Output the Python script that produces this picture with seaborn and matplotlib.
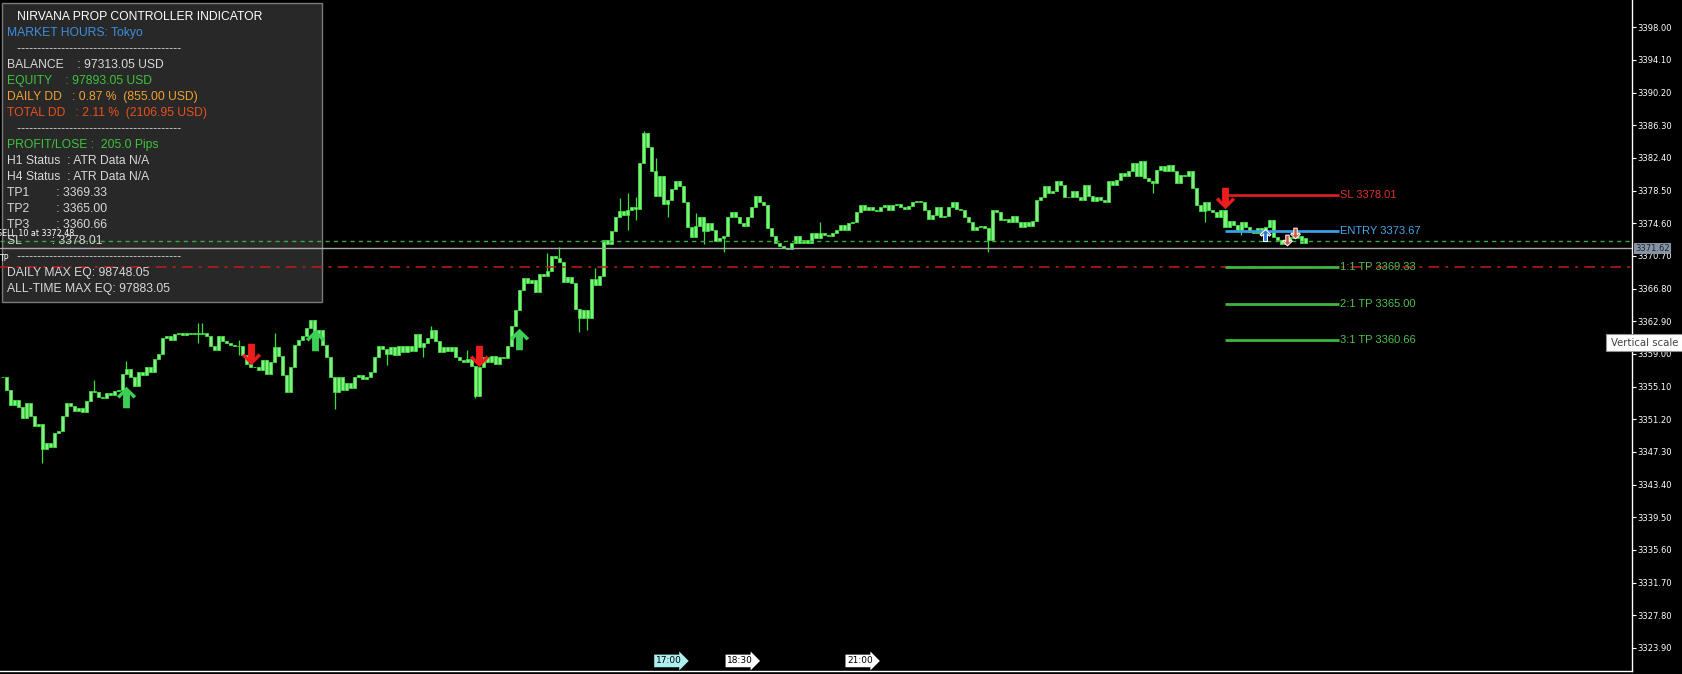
import numpy as np
import pandas as pd
import seaborn as sns
import matplotlib.pyplot as plt
from matplotlib.path import Path
from matplotlib.patches import Rectangle

# M5 closes (one per bar, left to right)
closes = [
    3356.2, 3354.7, 3352.9, 3353.5, 3352.7, 3351.4, 3353.1, 3351.6, 3350.4, 3350.6,
    3347.6, 3348.4, 3347.9, 3349.6, 3349.8, 3351.6, 3353.1, 3352.8, 3352.2, 3352.5,
    3352.1, 3353.4, 3354.6, 3354.5, 3353.9, 3353.8, 3354.3, 3354.1, 3354.6, 3354.7,
    3356.6, 3357.2, 3356.2, 3355.2, 3356.9, 3356.5, 3357.5, 3356.9, 3358.4, 3359.0,
    3360.9, 3361.2, 3360.7, 3361.4, 3361.5, 3361.3, 3361.5, 3361.4, 3361.5, 3361.4,
    3361.5, 3361.2, 3360.0, 3359.5, 3361.1, 3360.5, 3360.3, 3360.1, 3360.0, 3359.9,
    3358.9, 3357.8, 3357.4, 3357.5, 3357.1, 3358.3, 3356.6, 3358.1, 3359.8, 3358.8,
    3356.5, 3354.4, 3357.5, 3360.1, 3360.7, 3361.1, 3362.1, 3363.1, 3361.4, 3361.9,
    3360.1, 3358.6, 3356.3, 3354.5, 3356.2, 3354.7, 3355.5, 3354.9, 3356.2, 3356.5,
    3356.0, 3356.3, 3356.9, 3358.6, 3359.9, 3359.6, 3359.0, 3359.8, 3358.9, 3359.9,
    3359.2, 3360.0, 3359.3, 3361.4, 3359.8, 3360.3, 3360.9, 3361.9, 3360.5, 3359.2,
    3359.8, 3359.4, 3359.8, 3358.6, 3358.3, 3358.1, 3358.4, 3357.6, 3354.0, 3357.5,
    3358.6, 3358.1, 3358.7, 3357.8, 3358.6, 3358.5, 3360.0, 3362.3, 3364.3, 3366.6,
    3368.1, 3367.5, 3367.8, 3366.4, 3368.6, 3368.3, 3368.9, 3370.7, 3370.4, 3370.0,
    3367.6, 3368.2, 3367.5, 3364.4, 3363.3, 3364.2, 3363.3, 3368.0, 3367.2, 3368.3,
    3372.6, 3372.1, 3373.7, 3375.4, 3376.1, 3375.6, 3376.2, 3376.6, 3376.3, 3381.8,
    3385.4, 3383.7, 3380.8, 3377.9, 3380.3, 3376.9, 3377.4, 3378.7, 3379.7, 3379.0,
    3377.2, 3374.1, 3373.0, 3374.3, 3375.4, 3373.7, 3374.6, 3373.8, 3372.5, 3372.9,
    3373.1, 3375.3, 3375.9, 3375.4, 3374.6, 3374.3, 3375.4, 3376.5, 3377.9, 3377.2,
    3376.8, 3374.0, 3373.1, 3372.2, 3371.9, 3371.7, 3371.5, 3372.2, 3373.1, 3372.3,
    3372.6, 3372.2, 3373.4, 3372.9, 3373.5, 3373.2, 3373.1, 3373.5, 3373.8, 3374.4,
    3373.8, 3374.6, 3374.8, 3375.9, 3376.8, 3376.2, 3376.6, 3376.2, 3376.1, 3376.6,
    3376.8, 3376.2, 3376.8, 3376.9, 3376.6, 3376.3, 3376.7, 3377.1, 3377.3, 3377.1,
    3376.2, 3375.1, 3375.6, 3376.5, 3375.3, 3375.5, 3376.5, 3377.1, 3376.3, 3376.2,
    3375.4, 3374.7, 3373.8, 3374.2, 3374.3, 3374.0, 3372.6, 3376.2, 3375.9, 3375.0,
    3375.1, 3374.8, 3375.5, 3374.8, 3374.1, 3374.8, 3374.3, 3374.9, 3377.4, 3377.8,
    3379.1, 3378.2, 3378.4, 3379.6, 3379.2, 3377.8, 3377.7, 3378.4, 3377.8, 3377.4,
    3379.2, 3377.9, 3377.3, 3377.8, 3377.4, 3377.2, 3379.6, 3379.2, 3379.8, 3380.6,
    3380.2, 3380.8, 3381.8, 3380.2, 3382.0, 3380.0, 3379.7, 3379.4, 3381.0, 3381.4,
    3380.9, 3381.6, 3380.9, 3379.4, 3380.4, 3380.2, 3380.8, 3378.8, 3376.8, 3376.1,
    3377.2, 3376.2, 3375.9, 3375.4, 3376.2, 3374.1, 3374.9, 3374.4, 3373.8, 3374.8,
    3374.1, 3373.6, 3373.5, 3374.0, 3373.5, 3374.2, 3375.0, 3373.0, 3372.6, 3372.1,
    3372.6, 3373.0, 3372.8, 3373.1, 3372.2, 3372.8,
]

# bars with visible wicks beyond the body
nan = np.nan
wick_bars = [10, 23, 31, 49, 50, 59, 68, 83, 96, 105, 107, 116, 118, 136, 139, 144,
             146, 148, 154, 156, 158, 160, 163, 166, 173, 175, 180, 204, 246, 287, 300, 309]
wick_highs = [nan, 3355.9, 3358.2, 3362.7, 3362.7, 3360.7, 3361.5, nan, nan, nan, 3362.3,
              3359.5, nan, 3371.1, 3371.8, nan, nan, 3369.3, 3377.6, 3378.2, 3377.7,
              3385.6, 3382.4, nan, 3375.8, nan, nan, 3374.7, nan, nan, nan, nan]
wick_lows = [3346.0, nan, nan, 3360.3, nan, 3358.9, nan, 3352.4, 3357.7, 3358.6, nan,
             nan, 3353.8, nan, nan, 3361.6, 3361.9, nan, nan, 3373.8, 3375.0, nan, nan,
             3375.3, nan, 3372.1, 3371.2, nan, 3371.2, 3378.2, 3374.8, 3373.2]

# signal arrows
up_bars = [31, 78, 129]
up_prices = [3353.9, 3360.7, 3360.8]
down_bars = [62, 119, 305]
down_prices = [3359.0, 3358.8, 3377.6]

# trade levels
signal_bar = 305
level_len = 28.5
sl_price = 3378.01
entry_price = 3373.67
tp_prices = [3369.33, 3365.00, 3360.66]
tp_labels = ["1:1 TP 3369.33", "2:1 TP 3365.00", "3:1 TP 3360.66"]
sell_price = 3372.48
bid_price = 3371.62
tp_order_price = 3369.33

# order markers near the end
open_mark_bar, open_mark_price = 315, 3373.2
close_mark_bars = [320.5, 322.5]
close_mark_prices = [3372.6, 3373.4]

# vertical line time labels
time_labels = ["17:00", "18:30", "21:00"]
time_bars = [163.1, 180.9, 210.8]

y_ticks = np.round(np.arange(3323.9, 3398.01, 3.9), 2)

panel_lines = [
    ("   NIRVANA PROP CONTROLLER INDICATOR", "#ffffff"),
    ("MARKET HOURS: Tokyo", "#3d8fe0"),
    ("   " + "-" * 41, "#d0d0d0"),
    ("BALANCE    : 97313.05 USD", "#d8d8d8"),
    ("EQUITY    : 97893.05 USD", "#3cc43c"),
    ("DAILY DD   : 0.87 %  (855.00 USD)", "#f0a030"),
    ("TOTAL DD   : 2.11 %  (2106.95 USD)", "#e8501e"),
    ("   " + "-" * 41, "#d0d0d0"),
    ("PROFIT/LOSE :  205.0 Pips", "#3cc43c"),
    ("H1 Status  : ATR Data N/A", "#d8d8d8"),
    ("H4 Status  : ATR Data N/A", "#d8d8d8"),
    ("TP1        : 3369.33", "#d8d8d8"),
    ("TP2        : 3365.00", "#d8d8d8"),
    ("TP3        : 3360.66", "#d8d8d8"),
    ("SL         : 3378.01", "#d8d8d8"),
    ("   " + "-" * 41, "#d0d0d0"),
    ("DAILY MAX EQ: 98748.05", "#d8d8d8"),
    ("ALL-TIME MAX EQ: 97883.05", "#d8d8d8"),
]

# ---------------------------------------------------------------
W, H = 1683, 674
sns.set_theme(style="dark", rc={"axes.facecolor": "black", "figure.facecolor": "black",
                                "axes.grid": False})
plt.rcParams['font.family'] = ['DejaVu Sans']

df = pd.DataFrame({"close": closes})
df["bar"] = np.arange(len(df))
df["open"] = df["close"].shift(1).fillna(df["close"].iloc[0])
df["top"] = df[["open", "close"]].max(axis=1)
df["bot"] = df[["open", "close"]].min(axis=1)
df["high"] = df["top"]
df["low"] = df["bot"]
wk = pd.DataFrame({"bar": wick_bars, "wh": wick_highs, "wl": wick_lows}).set_index("bar")
df.loc[wk.index, "high"] = np.fmax(df.loc[wk.index, "top"], wk["wh"])
df.loc[wk.index, "low"] = np.fmin(df.loc[wk.index, "bot"], wk["wl"])

fig = plt.figure(figsize=(W / 100, H / 100), dpi=100)
ax = fig.add_axes([0, 3 / H, 1632 / W, 671 / H])
ax.set_facecolor("black")

candle_edge = "#3be03b"
ax.vlines(df["bar"], df["low"], df["high"], color=candle_edge, lw=0.9, zorder=2)
ax.bar(df["bar"], np.maximum(df["top"] - df["bot"], 0.1), bottom=df["bot"], width=0.75,
       color="#86ec86", edgecolor=candle_edge, linewidth=0.6, zorder=2.1)

# chunky arrow markers
up_path = Path([(0, 1), (0.9, 0.12), (0.64, -0.1), (0.32, 0.26), (0.32, -1), (-0.32, -1),
                (-0.32, 0.26), (-0.64, -0.1), (-0.9, 0.12), (0, 1)], closed=True)
down_path = Path([(x, -y) for x, y in up_path.vertices], closed=True)
sns.scatterplot(x=up_bars, y=up_prices, marker=up_path, s=240, color="#3ccf55",
                linewidth=0, ax=ax, zorder=6)
sns.scatterplot(x=down_bars, y=down_prices, marker=down_path, s=240, color="#ee1c1c",
                linewidth=0, ax=ax, zorder=6)
sns.scatterplot(x=[open_mark_bar], y=[open_mark_price], marker=up_path, s=75,
                color="#2f72d6", edgecolor="white", linewidth=0.8, ax=ax, zorder=6)
sns.scatterplot(x=close_mark_bars, y=close_mark_prices, marker=down_path, s=60,
                color="#d0553a", edgecolor="white", linewidth=0.7, ax=ax, zorder=6)

# full-width order lines
ax.axhline(sell_price, color="#3aa83a", lw=1, ls=(0, (3, 3)), zorder=4)
ax.axhline(bid_price, color="#a8a8a8", lw=1, zorder=4)
ax.axhline(tp_order_price, color="#c01c1c", lw=1.1, ls=(0, (7, 4, 2, 4)), zorder=4)

# SL / entry / TP levels
x0, x1 = signal_bar, signal_bar + level_len
lab_kw = dict(va="center", ha="left", fontsize=8, family="Liberation Sans", zorder=6)
ax.hlines(sl_price, x0, x1, color="#d42020", lw=2, zorder=5)
ax.text(x1 + 0.2, sl_price, "SL 3378.01", color="#e03030", **lab_kw)
ax.hlines(entry_price, x0, x1, color="#3a9ee0", lw=2, zorder=5)
ax.text(x1 + 0.2, entry_price, "ENTRY 3373.67", color="#45a8e8", **lab_kw)
for p, lab in zip(tp_prices, tp_labels):
    ax.hlines(p, x0, x1, color="#3db83d", lw=2, zorder=5)
    ax.text(x1 + 0.2, p, lab, color="#50c050", **lab_kw)

# left-edge order labels
ax.text(-1.3, sell_price + 0.35, "SELL 10 at 3372.48", color="white", fontsize=5.8,
        va="bottom", ha="left", zorder=7)
ax.text(-0.8, tp_order_price + 0.5, "TP", color="white", fontsize=5.8,
        va="bottom", ha="left", zorder=7)

# info panel (figure pixel layout)
def fx(px):
    return px / W

def fy(py):
    return 1 - py / H

ax.add_patch(Rectangle((fx(2), fy(302)), fx(320), 299 / H, transform=fig.transFigure,
                       facecolor="#282828", edgecolor="#7a7a7a", lw=1, zorder=3,
                       clip_on=False))
for i, (txt, col) in enumerate(panel_lines):
    ax.text(fx(7), fy(17 + 16 * i), txt, color=col, fontsize=8.7, family="Liberation Sans",
            va="center", ha="left", transform=fig.transFigure, zorder=7, clip_on=False)

# axes styling
ax.set_xlim(-0.5, 406.5)
ax.set_ylim(3321.15, 3401.26)
ax.yaxis.tick_right()
ax.set_yticks(y_ticks)
ax.set_yticklabels([f"{v:.2f}" for v in y_ticks])
ax.set_xticks(np.arange(13.1, 406, 16))
ax.set_xticklabels([])
ax.tick_params(axis="y", colors="white", length=3, width=0.8, labelsize=6, pad=1,
               direction="out")
ax.tick_params(axis="x", colors="white", length=3, width=0.8, direction="out")
for side in ["left", "top"]:
    ax.spines[side].set_visible(False)
for side in ["right", "bottom"]:
    ax.spines[side].set_color("white")
    ax.spines[side].set_linewidth(1)

# bid price box on the scale
ax.text(1.002, bid_price, "3371.62", transform=ax.get_yaxis_transform(), fontsize=6,
        color="#1c2733", va="center", ha="left", zorder=8, clip_on=False,
        bbox=dict(boxstyle="square,pad=0.15", fc="#8593a3", ec="none"))

# time labels at the bottom
for lab, b in zip(time_labels, time_bars):
    fc = "#aef0f0" if lab == "17:00" else "white"
    ax.text(b, 0.015, lab, transform=ax.get_xaxis_transform(), fontsize=6.5, color="black",
            va="center", ha="left", zorder=8,
            bbox=dict(boxstyle="rarrow,pad=0.2", fc=fc, ec="none"))

# tooltip box running off the right edge
fig.add_artist(Rectangle((fx(1606), fy(351)), fx(80), 17 / H, transform=fig.transFigure,
                         facecolor="white", edgecolor="#909090", lw=0.8, zorder=9))
fig.text(fx(1611), fy(342.5), "Vertical scale", fontsize=7.3, color="#404040",
         va="center", ha="left", zorder=10)

fig.savefig("out.png", dpi=100, facecolor="black")
